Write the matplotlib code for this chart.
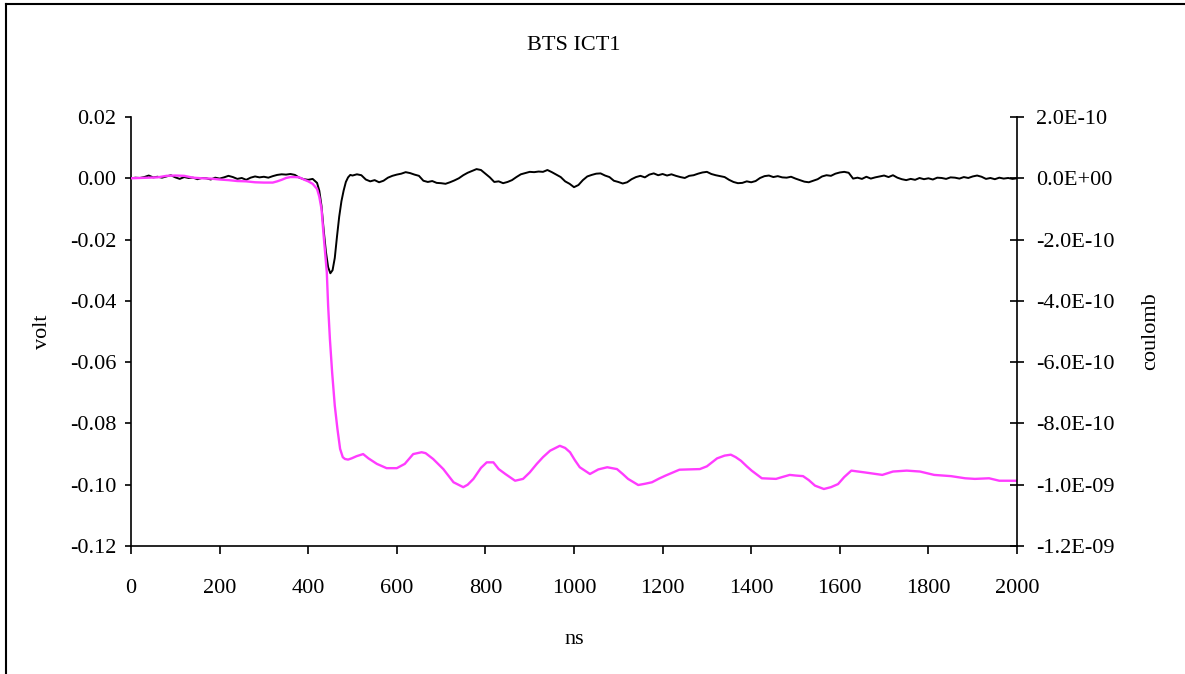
import numpy as np
import matplotlib.pyplot as plt
from matplotlib.lines import Line2D
from matplotlib.ticker import FuncFormatter

plt.rcParams['font.family'] = ['Liberation Serif', 'DejaVu Serif']

# ICT signal (volt)
volt_ns = [0, 10, 20, 30, 40, 50, 60, 70, 80, 90, 100, 110, 120, 130, 140, 150, 160, 170, 180, 190,
           200, 210, 220, 230, 240, 250, 260, 270, 280, 290, 300, 310, 320, 330, 340, 350, 360, 370, 380, 390,
           400, 410, 420, 425, 430, 435, 440, 445, 450, 455, 460, 465, 470, 475, 480, 485, 490, 495,
           500, 510, 520, 530, 540, 550, 560, 570, 580, 590, 600, 610, 620, 630, 640, 650, 660, 670, 680, 690,
           700, 710, 720, 730, 740, 750, 760, 770, 780, 790, 800, 810, 820, 830, 840, 850, 860, 870, 880, 890,
           900, 910, 920, 930, 940, 950, 960, 970, 980, 990, 1000, 1010, 1020, 1030, 1040, 1050, 1060, 1070, 1080, 1090,
           1100, 1110, 1120, 1130, 1140, 1150, 1160, 1170, 1180, 1190, 1200, 1210, 1220, 1230, 1240, 1250, 1260, 1270, 1280, 1290,
           1300, 1310, 1320, 1330, 1340, 1350, 1360, 1370, 1380, 1390, 1400, 1410, 1420, 1430, 1440, 1450, 1460, 1470, 1480, 1490,
           1500, 1510, 1520, 1530, 1540, 1550, 1560, 1570, 1580, 1590, 1600, 1610, 1620, 1630, 1640, 1650, 1660, 1670, 1680, 1690,
           1700, 1710, 1720, 1730, 1740, 1750, 1760, 1770, 1780, 1790, 1800, 1810, 1820, 1830, 1840, 1850, 1860, 1870, 1880, 1890,
           1900, 1910, 1920, 1930, 1940, 1950, 1960, 1970, 1980, 1990, 2000]
volt = [0.0000, 0.0002, 0.0001, 0.0004, 0.0009, 0.0003, 0.0005, 0.0002, 0.0006, 0.0010,
        0.0003, -0.0002, 0.0004, 0.0001, 0.0002, -0.0003, 0.0001, 0.0000, -0.0004, 0.0002,
        -0.0001, 0.0003, 0.0008, 0.0004, -0.0002, 0.0001, -0.0005, 0.0002, 0.0006, 0.0003,
        0.0005, 0.0002, 0.0007, 0.0011, 0.0013, 0.0012, 0.0014, 0.0011, 0.0002, -0.0003,
        -0.0005, -0.0002, -0.0015, -0.0040, -0.0090, -0.0170, -0.0240, -0.0290, -0.0310, -0.0300,
        -0.0260, -0.0190, -0.0125, -0.0075, -0.0040, -0.0012, 0.0003, 0.0011,
        0.0009, 0.0013, 0.0010, -0.0004, -0.0010, -0.0006, -0.0013, -0.0008, 0.0002, 0.0008,
        0.0012, 0.0015, 0.0020, 0.0017, 0.0012, 0.0008, -0.0008, -0.0012, -0.0009, -0.0015,
        -0.0016, -0.0018, -0.0013, -0.0007, 0.0000, 0.0010, 0.0018, 0.0024, 0.0030, 0.0027,
        0.0015, 0.0003, -0.0012, -0.0010, -0.0016, -0.0012, -0.0006, 0.0004, 0.0013, 0.0017,
        0.0021, 0.0020, 0.0022, 0.0021, 0.0027, 0.0020, 0.0012, 0.0004, -0.0010, -0.0018,
        -0.0029, -0.0022, -0.0006, 0.0006, 0.0011, 0.0015, 0.0016, 0.0009, 0.0004, -0.0008,
        -0.0012, -0.0017, -0.0013, -0.0003, 0.0004, 0.0008, 0.0003, 0.0012, 0.0016, 0.0010,
        0.0014, 0.0009, 0.0013, 0.0008, 0.0004, 0.0001, 0.0008, 0.0010, 0.0015, 0.0019,
        0.0021, 0.0014, 0.0010, 0.0007, 0.0004, -0.0005, -0.0012, -0.0016, -0.0015, -0.0010,
        -0.0013, -0.0009, 0.0001, 0.0007, 0.0009, 0.0004, 0.0007, 0.0003, 0.0002, 0.0005,
        -0.0001, -0.0006, -0.0011, -0.0013, -0.0008, -0.0003, 0.0006, 0.0010, 0.0008, 0.0015,
        0.0019, 0.0021, 0.0018, -0.0001, 0.0002, -0.0002, 0.0005, -0.0001, 0.0003, 0.0006,
        0.0009, 0.0004, 0.0010, 0.0002, -0.0003, -0.0006, -0.0002, -0.0005, 0.0001, -0.0003,
        0.0000, -0.0004, 0.0002, 0.0001, -0.0002, 0.0003, 0.0002, -0.0001, 0.0004, 0.0001,
        0.0006, 0.0009, 0.0005, -0.0002, 0.0001, -0.0003, 0.0002, -0.0001, 0.0001, -0.0002, 0.0000]

# integrated charge, in units of 1E-10 coulomb
charge_ns = [0, 20, 40, 60, 80, 100, 120, 140, 160, 180, 200, 220, 240, 260, 280, 300, 320, 330, 340, 350,
             360, 370, 380, 390, 400, 410, 420, 425, 430, 435, 442, 445, 449, 454, 460, 466, 472, 478, 483, 490,
             498, 509, 524, 536, 555, 577, 600, 618, 637, 656, 665, 682, 705, 728, 750, 760, 773, 790, 803, 818,
             830, 845, 867, 885, 900, 916, 930, 946, 968, 980, 991, 1002, 1013, 1036, 1055, 1075, 1097, 1110, 1122, 1145,
             1160, 1176, 1192, 1207, 1238, 1260, 1284, 1300, 1323, 1340, 1354, 1365, 1377, 1390, 1401, 1424, 1456, 1470, 1487, 1500,
             1517, 1530, 1544, 1564, 1580, 1596, 1610, 1626, 1657, 1696, 1720, 1751, 1781, 1813, 1851, 1883, 1905, 1937, 1960, 2000]
charge_e10 = [0.00, 0.01, 0.02, 0.03, 0.08, 0.09, 0.08, 0.02, 0.00, -0.01, -0.04, -0.06, -0.09, -0.10, -0.13, -0.14, -0.14, -0.10, -0.05, 0.01,
              0.04, 0.04, 0.03, -0.04, -0.10, -0.18, -0.35, -0.60, -1.00, -1.90, -3.07, -4.16, -5.25, -6.33, -7.42, -8.18, -8.83, -9.10, -9.16, -9.18,
              -9.14, -9.07, -9.00, -9.14, -9.32, -9.46, -9.46, -9.32, -9.00, -8.94, -8.97, -9.16, -9.49, -9.92, -10.08, -10.00, -9.81, -9.45, -9.27, -9.27,
              -9.49, -9.65, -9.87, -9.81, -9.60, -9.32, -9.10, -8.89, -8.73, -8.80, -8.94, -9.20, -9.43, -9.65, -9.50, -9.43, -9.49, -9.65, -9.81, -10.01,
              -9.97, -9.92, -9.80, -9.70, -9.51, -9.50, -9.49, -9.40, -9.14, -9.05, -9.02, -9.10, -9.22, -9.40, -9.54, -9.79, -9.81, -9.75, -9.68, -9.70,
              -9.72, -9.85, -10.03, -10.14, -10.08, -9.98, -9.75, -9.54, -9.60, -9.68, -9.57, -9.54, -9.57, -9.68, -9.72, -9.79, -9.81, -9.79, -9.87, -9.87]

x_ticks = [0, 200, 400, 600, 800, 1000, 1200, 1400, 1600, 1800, 2000]
volt_ticks = [-0.12, -0.10, -0.08, -0.06, -0.04, -0.02, 0.00, 0.02]
charge_ticks = [-1.2e-9, -1.0e-9, -8.0e-10, -6.0e-10, -4.0e-10, -2.0e-10, 0.0, 2.0e-10]

fig = plt.figure(figsize=(11.85, 6.74), dpi=100)
ax = fig.add_axes([131 / 1185, 1 - 546 / 674, (1017 - 131) / 1185, (546 - 117) / 674])
ax2 = ax.twinx()

ax.plot(volt_ns, volt, color='black', lw=1.4)
ax2.plot(charge_ns, np.array(charge_e10) * 1e-10, color='#FF3CFF', lw=1.7)

ax.set_xlim(0, 2000)
ax.set_ylim(-0.12, 0.02)
ax2.set_ylim(-1.2e-9, 2.0e-10)
ax.set_xticks(x_ticks)
ax.set_yticks(volt_ticks)
ax2.set_yticks(charge_ticks)
ax.yaxis.set_major_formatter(FuncFormatter(lambda v, p: '%.2f' % v))


def sci(v, p):
    # Excel style: 2.0E-10, 0.0E+00
    if v == 0:
        return '0.0E+00'
    return '%.1E' % v


ax2.yaxis.set_major_formatter(FuncFormatter(sci))

for a in (ax, ax2):
    a.spines['top'].set_visible(False)
    a.set_facecolor('none')
ax.spines['right'].set_visible(False)
ax2.spines['left'].set_visible(False)
ax2.spines['bottom'].set_visible(False)
for s in ('left', 'bottom'):
    ax.spines[s].set_linewidth(1.2)
ax2.spines['right'].set_linewidth(1.2)

ax.tick_params(axis='x', direction='out', length=6, width=1.2, pad=18, labelsize=16)
ax.tick_params(axis='y', direction='out', length=4.5, width=1.2, pad=6, labelsize=16)
ax2.tick_params(axis='y', direction='inout', length=10, width=1.2, pad=9, labelsize=16)

ax.set_xlabel('ns', fontsize=16, labelpad=23)
ax.set_ylabel('volt', fontsize=16, labelpad=13)
ax2.set_ylabel('coulomb', fontsize=16, labelpad=19)
fig.text(574 / 1185, 1 - 46 / 674, 'BTS ICT1', ha='center', va='center', fontsize=16)

# chart border (only left and top edges show in the picture)
fig.add_artist(Line2D([6 / 1185, 6 / 1185], [0, 1 - 4 / 674], color='black', lw=1.5, transform=fig.transFigure))
fig.add_artist(Line2D([6 / 1185, 1], [1 - 4 / 674, 1 - 4 / 674], color='black', lw=1.5, transform=fig.transFigure))

fig.savefig('out.png', dpi=100)
